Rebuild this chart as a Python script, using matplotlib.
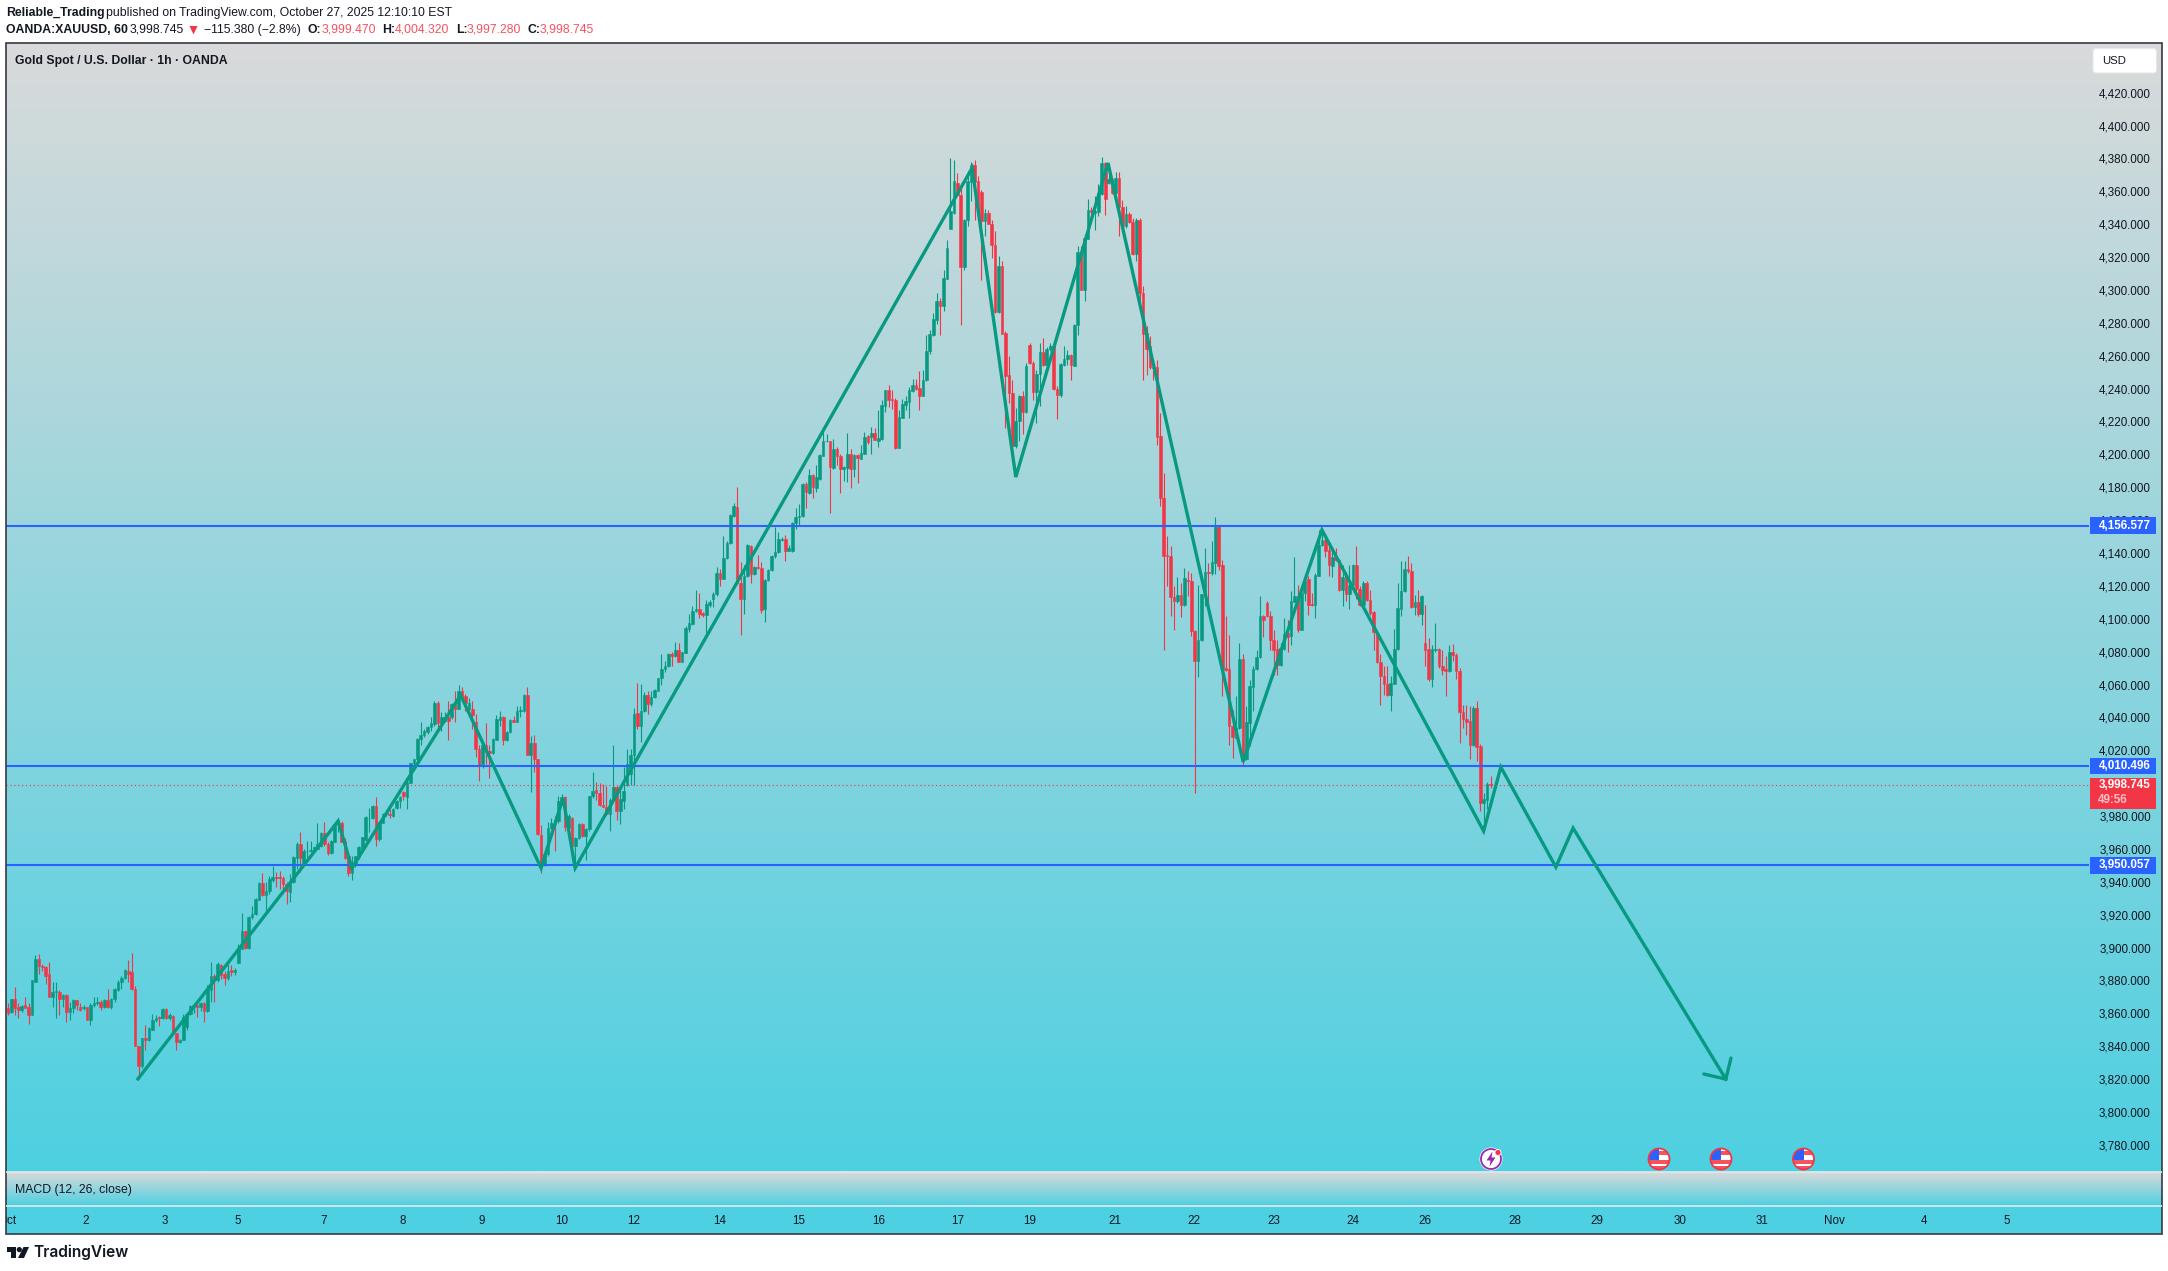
import numpy as np
import matplotlib
matplotlib.use("Agg")
import matplotlib.pyplot as plt
from matplotlib.patches import Rectangle, Circle, Polygon, FancyBboxPatch
from matplotlib.transforms import Bbox

# hourly candles
open_prices = [
    3863,3861,3869,3864,3862,3865,3864,3859,3879,3893,
    3889,3888,3884,3870,3873,3873,3868.5,3871,3861,3863,
    3868,3864,3863,3864,3856,3865,3866,3867,3864,3868,
    3864,3868.5,3874,3879,3881.5,3886,3885,3875,3840,3828,
    3845,3844,3850,3856,3857.6,3857,3862.7,3857,3858.6,3848,
    3842.4,3844,3851.5,3859.6,3864,3865,3864,3866.3,3861.7,3874,
    3883,3880,3889.6,3884,3881.5,3886.4,3885.4,3890.7,3899,3910,
    3900,3918.4,3920.5,3929,3939.3,3932,3934.7,3941.4,3943,3943,
    3942.6,3938.7,3934,3939.7,3954.3,3963,3950.9,3958.6,3959,3958.6,
    3960,3962,3969.6,3963,3957.6,3964.5,3976,3976,3964.7,3955.6,
    3945.4,3950,3955,3960,3965.7,3979,3979,3986,3966,3976,
    3981,3981.3,3980,3985,3989,3994.5,3991.5,4000,4012,4014.4,
    4027,4029,4031,4034,4036,4049,4036.7,4038,4040,4040,
    4048,4045,4056,4053,4045,4045,4037,4021,4011.7,4023,
    4019.8,4018.4,4026.5,4038.7,4040,4026,4031,4038.5,4037.5,4044,
    4044,4053.7,4017.4,4024.3,4014.4,3968.7,3950.3,3957,3973,3977.3,
    3977,3989.4,3991.8,3973,3979,3961.5,3966.5,3975,3968,3972,
    3992,3996,3994,3987,3985.8,3981,3990,3997.5,3983,3989.4,
    3998.6,4005.7,4017.2,4042.8,4035,4044,4053.7,4048,4052.7,4056,
    4063.8,4069.5,4071,4078.3,4077.4,4081,4074,4079.3,4094,4096.9,
    4105,4106,4103.6,4102,4108.4,4112,4114.8,4128,4124.3,4137,
    4146,4162.8,4167.9,4121.7,4112.1,4126.3,4144.2,4127,4131.4,4131,
    4106,4123.7,4129.4,4138,4140.5,4148,4148.6,4141.5,4141,4158,
    4161.8,4162.2,4182,4176.6,4187.6,4179.7,4185,4199.3,4208,4208.2,
    4191.8,4203.4,4199.3,4190.8,4191.8,4200.3,4190.8,4199.9,4197.3,4200.3,
    4210.9,4210.5,4213.1,4208.1,4209.4,4229.6,4239.2,4233.7,4233.1,4204.1,
    4222.3,4230.1,4232,4238.8,4242.2,4240.5,4235.7,4245,4262.6,4272.8,
    4281.9,4293.5,4290,4306.9,4337.3,4346.8,4365,4358,4313.7,4342.3,
    4365.7,4376.2,4366,4359.6,4341.7,4346.8,4340.1,4327.5,4286.8,4314.8,
    4273.8,4248.4,4237.3,4204.8,4220.4,4235.7,4225.5,4266.7,4255.5,4237.7,
    4248.8,4262.2,4254.5,4264.1,4266.1,4239.7,4235.9,4254.5,4258,4260.6,
    4254,4278.5,4323.1,4300.2,4331.2,4348.8,4347,4347.4,4358.6,4377.2,
    4365,4367.5,4359,4368.1,4350.2,4338.7,4346.4,4341.5,4322,4342.7,
    4298.1,4273.8,4265.7,4253.1,4253.1,4211.3,4173.4,4138.9,4138.4,4113.2,
    4110.6,4114.6,4108.6,4123.8,4123.2,4092.7,4074.5,4086.9,4115,4128.4,
    4127.8,4133.9,4155.6,4132.9,4070,4069.6,4034.9,4027.5,4033.5,4075.7,
    4014.7,4036.5,4058.5,4069.4,4076.7,4101.9,4109.6,4101.9,4087.3,4081.6,
    4072,4081.8,4091.3,4089.3,4110.4,4113.6,4093.3,4115.6,4124.4,4109.2,
    4108.6,4126.2,4145,4148.1,4141.6,4132.3,4137.5,4135.9,4117.7,4125.8,
    4115.2,4120.7,4132.9,4118.1,4108.6,4121.7,4111.6,4103.9,4091.7,4073.5,
    4065,4060.5,4053.8,4060.5,4081.8,4106.1,4116.7,4130.5,4129.2,4106.9,
    4110.2,4103.1,4085.4,4081.6,4063.5,4080.8,4081.8,4071,4069.6,4068,
    4079.5,4078.1,4068.4,4043.2,4039.2,4037.6,4023.4,4045.7,4022.4,3988,3990,3999.47,
]
high_prices = [
    3866,3869,3876,3866,3865,3870,3866,3880,3895.5,3896,
    3890,3889,3891,3879,3879,3874,3872,3872,3867,3868.5,
    3868,3866,3865,3864,3866,3870,3870,3868,3868.5,3875,
    3869.5,3875.5,3880,3882.5,3887,3892.5,3897,3876.9,3840,3845,
    3853,3851.5,3859.6,3859,3858.6,3863.3,3863.3,3860,3859,3848,
    3844.5,3859.6,3860,3865,3866,3865,3866.7,3867,3877,3891,
    3884,3891,3890,3886,3890,3889.5,3887.6,3902,3921,3910.3,
    3919,3925.5,3930,3940,3945.4,3939.7,3943.8,3949.9,3945.8,3946.8,
    3943.8,3939.7,3944.8,3955.5,3964.5,3970.6,3960,3965,3965,3962,
    3976,3970,3976.2,3964.5,3965.5,3975.5,3977,3977,3966.5,3956,
    3956,3956,3961.5,3967.5,3980,3985,3986.5,3991.5,3977,3982,
    3983,3984.4,3985,3990,3992,3995.5,4001,4012.5,4015,4027.5,
    4037,4033,4035,4040,4050,4049.7,4043,4043,4050,4048.5,
    4056,4059.8,4058.4,4054,4052,4050,4042,4023,4023.5,4036.7,
    4023,4027.5,4041.7,4044,4041,4031.5,4039,4041,4047,4047,
    4054,4058.4,4028.6,4029,4014.8,3974.8,3957.5,3976.6,3979,3980,
    3992.5,3993.5,3992.5,3981,3979.3,3967,3976,3976,3973,3992.5,
    4006.7,4000.6,4000,3999.6,3998.5,3991,4023,3998.5,3997.5,4009.7,
    4021,4020.9,4045.6,4061,4060.4,4055.3,4056.3,4056.3,4057,4064,
    4078.7,4074.6,4079.3,4079.7,4085.8,4085.2,4080,4095.5,4103,4107.7,
    4117.6,4115.6,4104,4111.5,4111.5,4116,4131.4,4130.4,4150.3,4147,
    4163.5,4170.5,4180,4134.4,4132.4,4145.6,4144.6,4132,4138.5,4134.8,
    4124.3,4130,4138.5,4155.7,4153,4149.6,4151,4144.6,4158.8,4167.3,
    4169.9,4182.5,4183,4190.8,4188.2,4193.6,4200,4216.6,4212.5,4208.4,
    4209.5,4204.4,4200.3,4193,4213,4203.4,4200.3,4200.3,4205.4,4213.5,
    4211.9,4216.6,4216,4227,4233,4239.2,4242.2,4239.2,4234,4227,
    4233.5,4235.5,4240.8,4245.9,4245.9,4250.9,4251.5,4272.8,4275.8,4286,
    4298.1,4295.1,4312.3,4330.6,4380.3,4379.2,4371.1,4365,4343,4372.2,
    4377.8,4378.8,4369.1,4361,4349.2,4348.8,4342.3,4335.6,4320.4,4317.4,
    4274.8,4259.6,4245,4228.2,4236,4238.3,4255.5,4267.7,4256.6,4251.5,
    4267.7,4270.8,4265.3,4267.7,4266.7,4241.3,4255.5,4266.1,4263.6,4261,
    4279.5,4327,4326.5,4334.2,4355.5,4350.5,4357,4364.4,4380.9,4377.6,
    4377.2,4368.1,4371.5,4371.5,4354.9,4350.9,4347.2,4343.8,4343.8,4343.8,
    4302.2,4277.8,4272.2,4256.6,4257.6,4225.1,4188.6,4150.5,4144,4119.7,
    4125.4,4121.7,4130.9,4128.8,4127.8,4093.3,4120.7,4115.2,4143,4133.9,
    4147.1,4161.7,4156.2,4135.9,4101.5,4090.3,4044.7,4053.2,4085.2,4078.7,
    4046.7,4062.9,4071,4081.2,4113.6,4102.5,4111,4104.9,4093,4087.3,
    4085.2,4100.4,4099.4,4116.7,4137.6,4120.7,4116,4125.8,4125.8,4115.6,
    4127.8,4154.2,4154.6,4151.5,4146,4143,4143,4136.3,4132.9,4128.2,
    4132.9,4133.3,4144.4,4119.7,4122.7,4122.7,4117.7,4104.5,4092.3,4078.5,
    4071,4071,4065,4094,4121.7,4134.9,4134.9,4138.4,4133.9,4114.6,
    4117.7,4114.6,4108.6,4088.3,4084.2,4097.4,4082.2,4081.2,4077.1,4084.2,
    4084.8,4079.1,4070,4047.7,4047.7,4046.7,4046.7,4050.1,4023.9,3994,4000.5,4004.32,
]
low_prices = [
    3859,3860,3859,3857,3861,3863,3853.5,3859,3879,3884,
    3886,3878,3870,3864,3857,3859,3864,3855,3856,3860,
    3862,3861.6,3862,3856,3853,3864,3865,3862,3863.5,3863,
    3862.5,3867,3873.5,3875,3881,3879,3874.4,3840,3820,3827,
    3838,3843,3850,3855,3852.5,3856.5,3856.5,3856,3847,3838,
    3842,3843.5,3850,3859,3860,3857.6,3861.7,3855,3861,3866.7,
    3867,3878.9,3881,3877.5,3880.5,3883,3883.6,3890.7,3899,3899,
    3899,3917.4,3920,3929,3931.6,3922.5,3932.6,3939.7,3936.7,3935.7,
    3932.6,3926.6,3927.6,3939,3947.9,3945.8,3950,3954.9,3958,3958,
    3960,3961,3962,3956.4,3957,3964,3970,3964,3954,3943.8,
    3941.4,3949,3954,3960,3965,3970,3978,3962,3965,3976,
    3980,3979,3979.5,3984,3985,3990,3984.4,4000,4011,4014,
    4023,4028,4030,4032,4035,4032,4032,4037,4026.5,4039,
    4037.5,4045,4050,4044,4044,4033,4015.8,4001.6,4009,4011.7,
    4003,4018,4026,4035,4023,4025.5,4030.5,4037,4037,4040,
    4043,4017,3994.6,4006.7,3968.6,3945.4,3949.5,3956,3972,3959,
    3976,3989,3971,3972,3960,3947.9,3966,3967.5,3953.5,3971,
    3991,3990,3986.4,3985.4,3980.7,3971,3989.5,3977.9,3975,3984.4,
    3998,3998.6,3998.6,4033,4025,4043.5,4041.8,4047,4052,4056,
    4059.8,4067.5,4070.5,4071,4077,4073.6,4073.5,4079,4091.8,4096,
    4104,4100.6,4101,4091.4,4107,4107,4114,4119.8,4124,4136.5,
    4145.5,4162,4121,4090.4,4103,4125.3,4121.9,4126.5,4130,4103.6,
    4098.3,4123,4129,4137,4140,4147.5,4135.4,4141,4140.8,4154.3,
    4156.7,4162,4167.5,4176,4173.6,4177,4184.5,4199,4207.5,4164.4,
    4190.8,4193.6,4176.6,4183.5,4183,4179.7,4186,4182.7,4197,4200,
    4206.4,4200.3,4208.5,4204.7,4209,4226,4229,4227.6,4203.3,4203.7,
    4222,4227,4221.9,4238,4239.2,4227,4235.3,4244.5,4261.2,4272,
    4279.5,4272.8,4287,4306.5,4337,4346,4357,4278.5,4312.3,4339.1,
    4353.9,4342.3,4346.5,4306.2,4332.6,4340,4319.4,4286,4286,4273,
    4216,4231.2,4200.8,4204,4208,4212.5,4225,4255,4233.2,4219,
    4229.2,4254,4254,4262.6,4239,4221.5,4234.9,4254,4254.5,4245.4,
    4253.5,4272.8,4299.8,4293,4331,4341.7,4336.7,4344.8,4358,4345.8,
    4364.5,4358.5,4358.5,4333,4338,4337.7,4340.7,4321.5,4317.4,4293.1,
    4245,4248.4,4252,4245.4,4205.9,4168.3,4080.8,4119.7,4101.5,4093.3,
    4109.6,4100.8,4108,4114,4089.7,3994.1,4064.3,4086.5,4107.5,4107.5,
    4126.8,4127.4,4129.4,4053.2,4068,4023.4,4015.3,4027,4033,4010.6,
    4014,4022.8,4043.6,4069,4076,4088.7,4101,4080.8,4065.6,4066,
    4071.4,4081,4079.6,4083.8,4110,4091.7,4093,4111,4102,4108,
    4100.4,4126,4144,4137.4,4125.8,4125.4,4135,4116.7,4107.5,4111,
    4105.9,4120,4112,4108,4108,4111,4102.5,4081.2,4073,4047.3,
    4053.8,4053.2,4043.7,4060.5,4081,4101.9,4116,4128,4106.5,4102,
    4101.9,4096.4,4071.4,4061.9,4058.2,4080,4070,4065.6,4053.2,4067.5,
    4074.1,4063.5,4024.4,4033.5,4029.5,4014.9,4022.4,4013.2,3983.3,3974.2,3984.3,3997.28,
]
close_prices = [
    3860,3869,3863,3862,3864.3,3863,3859,3880,3893,3889,
    3888,3883,3870,3873,3873.5,3868.5,3871.4,3861,3863,3868,
    3865,3862,3864,3856,3865,3866,3867,3864,3868,3864,
    3869,3875,3879,3881.5,3886.4,3884,3875,3840,3828,3845,
    3844,3851,3856,3857,3857,3862.7,3857,3859,3848,3842.4,
    3844,3857.6,3859.6,3864.7,3865,3864,3866.3,3861.7,3874.8,3883,
    3880,3890,3883.5,3881.5,3886,3885.4,3886.4,3899,3910,3899.8,
    3918.4,3920.5,3929.6,3939.3,3932,3934.7,3941.8,3943.2,3942.6,3942.6,
    3938.7,3934.7,3939.7,3955,3963,3954.3,3959,3959,3959.3,3961,
    3963,3969.6,3962.7,3957.6,3965,3975,3977,3964.5,3954.5,3945.4,
    3950.3,3955.6,3961,3967,3979.7,3979,3986,3966,3976.6,3981.3,
    3982,3980.7,3984.4,3989.4,3991.4,3992,4000.6,4012,4014.8,4027,
    4029.4,4032,4034,4036.7,4049,4036.7,4040,4040,4038,4048,
    4045,4056,4051,4049,4049,4041.7,4021,4011,4023,4019,
    4018.4,4027,4039,4040,4026,4031,4038.5,4037.5,4044,4044.6,
    4053.7,4017.4,4024.3,4014.4,3969,3950.3,3957,3973,3976,3975.2,
    3989.4,3991.4,3973.2,3980,3961.5,3966.5,3975,3968,3972,3992,
    3995.5,3994,3987,3985.4,3981,3990,3997.5,3983.3,3990.5,3995.5,
    4011.8,4017.2,4042.2,4035,4043.8,4053.7,4048.2,4052.7,4056.8,4063.8,
    4069.5,4071.2,4078.3,4077.4,4080.7,4074,4079.7,4094.5,4097.5,4105,
    4106,4103,4102,4109,4110,4115,4128,4124.3,4137,4146.2,
    4163.2,4168.5,4121.7,4112.1,4126.3,4144.6,4127.3,4131.4,4130.8,4105.6,
    4123.7,4129.4,4138,4140.5,4148.6,4148.6,4141,4143.2,4158.2,4161.8,
    4162.8,4182,4177,4187.6,4180,4186,4199.7,4208,4208.4,4192.6,
    4203.4,4199,4190.8,4192.2,4200.3,4190.8,4199.9,4197.7,4200.7,4210.5,
    4207.4,4213.1,4208.9,4209.8,4230,4239.2,4233.1,4233.3,4204.1,4222.5,
    4230.7,4232.7,4239.2,4242.2,4239.8,4235.2,4245.4,4263,4273.4,4282.5,
    4293.5,4290,4307.3,4325.5,4347.8,4366,4357.5,4313.7,4342.7,4366,
    4376.2,4365.7,4346.8,4341.7,4346.8,4340.1,4327.1,4286.4,4314.8,4273.4,
    4247.8,4237.3,4204.8,4220.4,4235.7,4225.5,4253.9,4255.5,4237.7,4248.8,
    4262.2,4254.5,4264.3,4266.1,4239.7,4235.9,4255.1,4258.2,4260.6,4254.1,
    4278.9,4323.1,4300.2,4331.6,4348.8,4347.2,4347.8,4359,4377.2,4355.3,
    4367.5,4359,4368.1,4350.2,4338.7,4346.4,4341.1,4322,4342.3,4298.1,
    4273.4,4264.3,4252.9,4252.7,4210.5,4173.4,4138.4,4138.4,4113,4110.6,
    4114.6,4108.6,4124.8,4122.7,4092.3,4074.5,4087.3,4115.2,4128.4,4127.8,
    4134.5,4155.6,4132.3,4070,4069,4034.5,4027.8,4033.5,4075.7,4014.7,
    4037,4059.3,4069.6,4076.7,4101.9,4099,4101.5,4086.8,4081.2,4072,
    4082.2,4090.7,4088.7,4110.6,4113.6,4093.3,4115.6,4122.7,4108.6,4108.6,
    4126.8,4145,4148.1,4141,4132.5,4137.5,4135.5,4117.7,4125.4,4115.2,
    4120.7,4132.9,4118.1,4108.6,4121.7,4111.2,4103.5,4091.7,4073.5,4065,
    4060.5,4053.8,4060.9,4081.8,4106.5,4117.1,4130.5,4128.8,4106.9,4110.2,
    4103.1,4114,4081.2,4063.5,4081.6,4081.6,4071,4069,4068,4079.5,
    4077.7,4068,4043,4039.2,4037,4023.4,4045.7,4021.8,3987.9,3990.4,3999.3,3998.745,
]

# hand drawn projection, bar number and price of each corner
path_bars = [37.8,96.0,100.0,131.6,155.0,161.4,164.9,280.3,293.0,319.8,359.1,382.0,429.0,434.0,450.0,455.0,499.4]
path_prices = [3820.1,3977,3948.4,4053.6,3948.4,3991,3948.4,4374.2,4186.2,4377.2,4012.9,4154,3970.9,4009.8,3949,3972.7,3820]
arrow_bars = [493.0,499.4,500.9]
arrow_prices = [3823.1,3820,3832.8]

levels = [4156.577, 4010.496, 3950.057]
last_price = 3998.745

price_ticks = list(range(3780, 4421, 20))
time_bars = [-0.2,22.6,45.7,66.9,91.9,114.8,137.8,161.1,182,207,230,253,276,297,321.8,344.8,368,391,412,438,462,486,510,531,557,581,606]
time_labels = ["Oct","2","3","5","7","8","9","10","12","14","15","16","17","19","21","22","23","24","26","28","29","30","31","Nov","4","5","6"]

event_pos = [1659, 1721, 1803.5]

GREEN = "#089981"
RED = "#f23645"
BLUE = "#2962ff"
INK = "#131722"
FONT = "Liberation Sans"

W, H = 2168, 1271
fig = plt.figure(figsize=(W / 100, H / 100), dpi=100, facecolor="white")
plt.rcParams["font.family"] = [FONT, "DejaVu Sans"]


def px_rect(x0, y0, x1, y1):
    return [x0 / W, 1 - y1 / H, (x1 - x0) / W, (y1 - y0) / H]


top_col = np.array([217, 218, 218]) / 255
bot_col = np.array([77, 208, 225]) / 255
grad = np.linspace(0, 1, 256)[:, None, None] * (bot_col - top_col) + top_col


def paint(a):
    a.imshow(grad, aspect="auto", extent=(0, 1, 0, 1), transform=a.transAxes, zorder=0, interpolation="bilinear")
    a.set_xticks([])
    a.set_yticks([])
    for s in a.spines.values():
        s.set_visible(False)


ax = fig.add_axes(px_rect(6, 43, 2162, 1172))
paint(ax)
bars = np.arange(len(close_prices))
o = np.array(open_prices)
h = np.array(high_prices)
l = np.array(low_prices)
c = np.array(close_prices)
up = c >= o
cols = np.where(up, GREEN, RED)

ax.vlines(bars, l, h, colors=cols, lw=0.8, zorder=2)
ax.bar(bars, np.abs(c - o), bottom=np.minimum(o, c), width=0.76, color=cols, edgecolor=cols, linewidth=0.4, zorder=3)

end_bar = 605
ax.hlines(levels, -0.6, end_bar, colors=BLUE, lw=1.5, zorder=4)
ax.hlines(last_price, -0.6, end_bar, colors=RED, lw=0.8, linestyles=(0, (1, 2.5)), zorder=4)
ax.plot(path_bars, path_prices, color=GREEN, lw=2.4, zorder=5, solid_joinstyle="miter")
ax.plot(arrow_bars, arrow_prices, color=GREEN, lw=2.4, zorder=5, solid_joinstyle="miter", solid_capstyle="round")

ax.set_xlim(-0.55, 626.2)
ax.set_ylim(3763.5, 4450.2)

ax.yaxis.tick_right()
ax.set_yticks(price_ticks)
ax.set_yticklabels([f"{v:,.3f}" for v in price_ticks])
ax.tick_params(axis="y", length=0, pad=-8.1, labelsize=8.4, labelcolor=INK)
plt.setp(ax.get_yticklabels(), ha="right")

# price tags on the axis
tag_x = (2090 - 6) / 2156
tag_w = 66 / 2156
tr = ax.get_yaxis_transform()
for v in levels:
    ax.add_patch(Rectangle((tag_x, v - 5.1), tag_w, 10.2, transform=tr, fc=BLUE, ec="none", zorder=6, clip_on=False))
    ax.text((2150.7 - 6) / 2156, v, f"{v:,.3f}", transform=tr, color="white", fontsize=8.4, fontweight="bold",
            ha="right", va="center", zorder=7)
ax.add_patch(Rectangle((tag_x, 3984.3), tag_w, 18.8, transform=tr, fc=RED, ec="none", zorder=6, clip_on=False))
ax.text((2150.7 - 6) / 2156, last_price, f"{last_price:,.3f}", transform=tr, color="white", fontsize=8.4,
        fontweight="bold", ha="right", va="center", zorder=7)
ax.text((2097.5 - 6) / 2156, last_price - 9, "49:56", transform=tr, color="#ffc2c7", fontsize=8.4,
        fontweight="bold", ha="left", va="center", zorder=7)

macd_ax = fig.add_axes(px_rect(6, 1172, 2162, 1206))
paint(macd_ax)

time_ax = fig.add_axes(px_rect(6, 1206, 2162, 1234), facecolor="#4dd0e1")
time_ax.set_xlim(-0.55, 626.2)
time_ax.set_yticks([])
time_ax.set_xticks(time_bars)
time_ax.set_xticklabels(time_labels)
time_ax.tick_params(axis="x", length=0, pad=-13.8, labelsize=8.4, labelcolor=INK)
for s in time_ax.spines.values():
    s.set_visible(False)
for lab in time_ax.get_xticklabels():
    lab.set_clip_box(Bbox([[6, 0], [2089.5, H]]))
    lab.set_clip_on(True)

# everything else is laid on top in screen pixels
over = fig.add_axes([0, 0, 1, 1], facecolor="none")
over.set_xlim(0, W)
over.set_ylim(H, 0)
over.axis("off")

over.hlines([1172, 1206], 6, 2162, colors="#e6e9ea", lw=1.2)
over.add_patch(Rectangle((6, 43), 2156, 1191, fc="none", ec="#363a45", lw=1.2))

over.add_patch(FancyBboxPatch((2095, 50.5), 59.5, 20.5, boxstyle="round,pad=2,rounding_size=3", fc="white", ec="#e4e8ea", lw=0.8))
over.text(2102, 61.5, "USD", color=INK, fontsize=8.2, va="center")

over.text(6, 12.7, "Reliable_Trading", color=INK, fontsize=8.8, fontweight="bold", va="center")
over.text(106, 12.7, "published on TradingView.com, October 27, 2025 12:10:10 EST", color=INK, fontsize=8.8, va="center")
over.text(6, 30, "OANDA:XAUUSD, 60", color=INK, fontsize=8.8, fontweight="bold", va="center")
over.text(130, 30, "3,998.745", color=INK, fontsize=8.8, va="center")
over.add_patch(Polygon([[189.5, 26], [197.5, 26], [193.5, 34.5]], fc=RED, ec="none"))
over.text(203.5, 30, "−115.380 (−2.8%)", color=INK, fontsize=8.8, va="center")
for lx, vx, name, val in [(308, 321.4, "O:", "3,999.470"), (382.6, 395, "H:", "4,004.320"),
                          (456, 467, "L:", "3,997.280"), (527, 540, "C:", "3,998.745")]:
    over.text(lx, 30, name, color=INK, fontsize=8.8, fontweight="bold", va="center")
    over.text(vx, 30, val, color="#f7525f", fontsize=8.8, va="center")

over.text(15, 60.7, "Gold Spot / U.S. Dollar · 1h · OANDA", color=INK, fontsize=8.8, fontweight="bold", va="center")
over.text(15, 1190, "MACD (12, 26, close)", color=INK, fontsize=8.8, va="center")

# logo
over.add_patch(Polygon([[6.5, 1247], [16, 1247], [16, 1258], [11, 1258], [11, 1252], [6.5, 1252]], fc=INK, ec="none"))
over.add_patch(Circle((19.3, 1249.6), 2.6, fc=INK, ec="none"))
over.add_patch(Polygon([[23.5, 1247], [29, 1247], [24, 1258], [18, 1258]], fc=INK, ec="none"))
over.text(33.5, 1252.7, "TradingView", color=INK, fontsize=11.2, fontweight="semibold", family="Inter", va="center")

# event markers under the candles
over.add_patch(Circle((1491, 1159), 11.5, fc="white", ec="none"))
over.add_patch(Circle((1491, 1159), 10, fc="white", ec="#9c27b0", lw=1.3))
over.add_patch(Polygon([[1492.5, 1151.5], [1486.5, 1160.5], [1490.5, 1160.5], [1489.5, 1166.5], [1495.5, 1157.5], [1491.5, 1157.5]],
                       fc="#9c27b0", ec="none"))
over.add_patch(Circle((1498, 1152.5), 3, fc=RED, ec="white", lw=0.6))

for ex in event_pos:
    ring = Circle((ex, 1159), 10.5, fc="white", ec="none")
    over.add_patch(ring)
    for r in [(ex - 11, 1148, 22, 11, "white"), (ex - 11, 1149, 11, 11, BLUE), (ex, 1151, 11, 3.5, "#f7525f"),
              (ex - 11, 1160, 22, 4, "#f7525f"), (ex - 11, 1166, 22, 4, "#f7525f")]:
        p = Rectangle((r[0], r[1]), r[2], r[3], fc=r[4], ec="none")
        over.add_patch(p)
        p.set_clip_path(ring)
    over.add_patch(Circle((ex, 1159), 10.5, fc="none", ec="#f23645", lw=1.3))

fig.savefig("out.png", dpi=100, facecolor="white")
